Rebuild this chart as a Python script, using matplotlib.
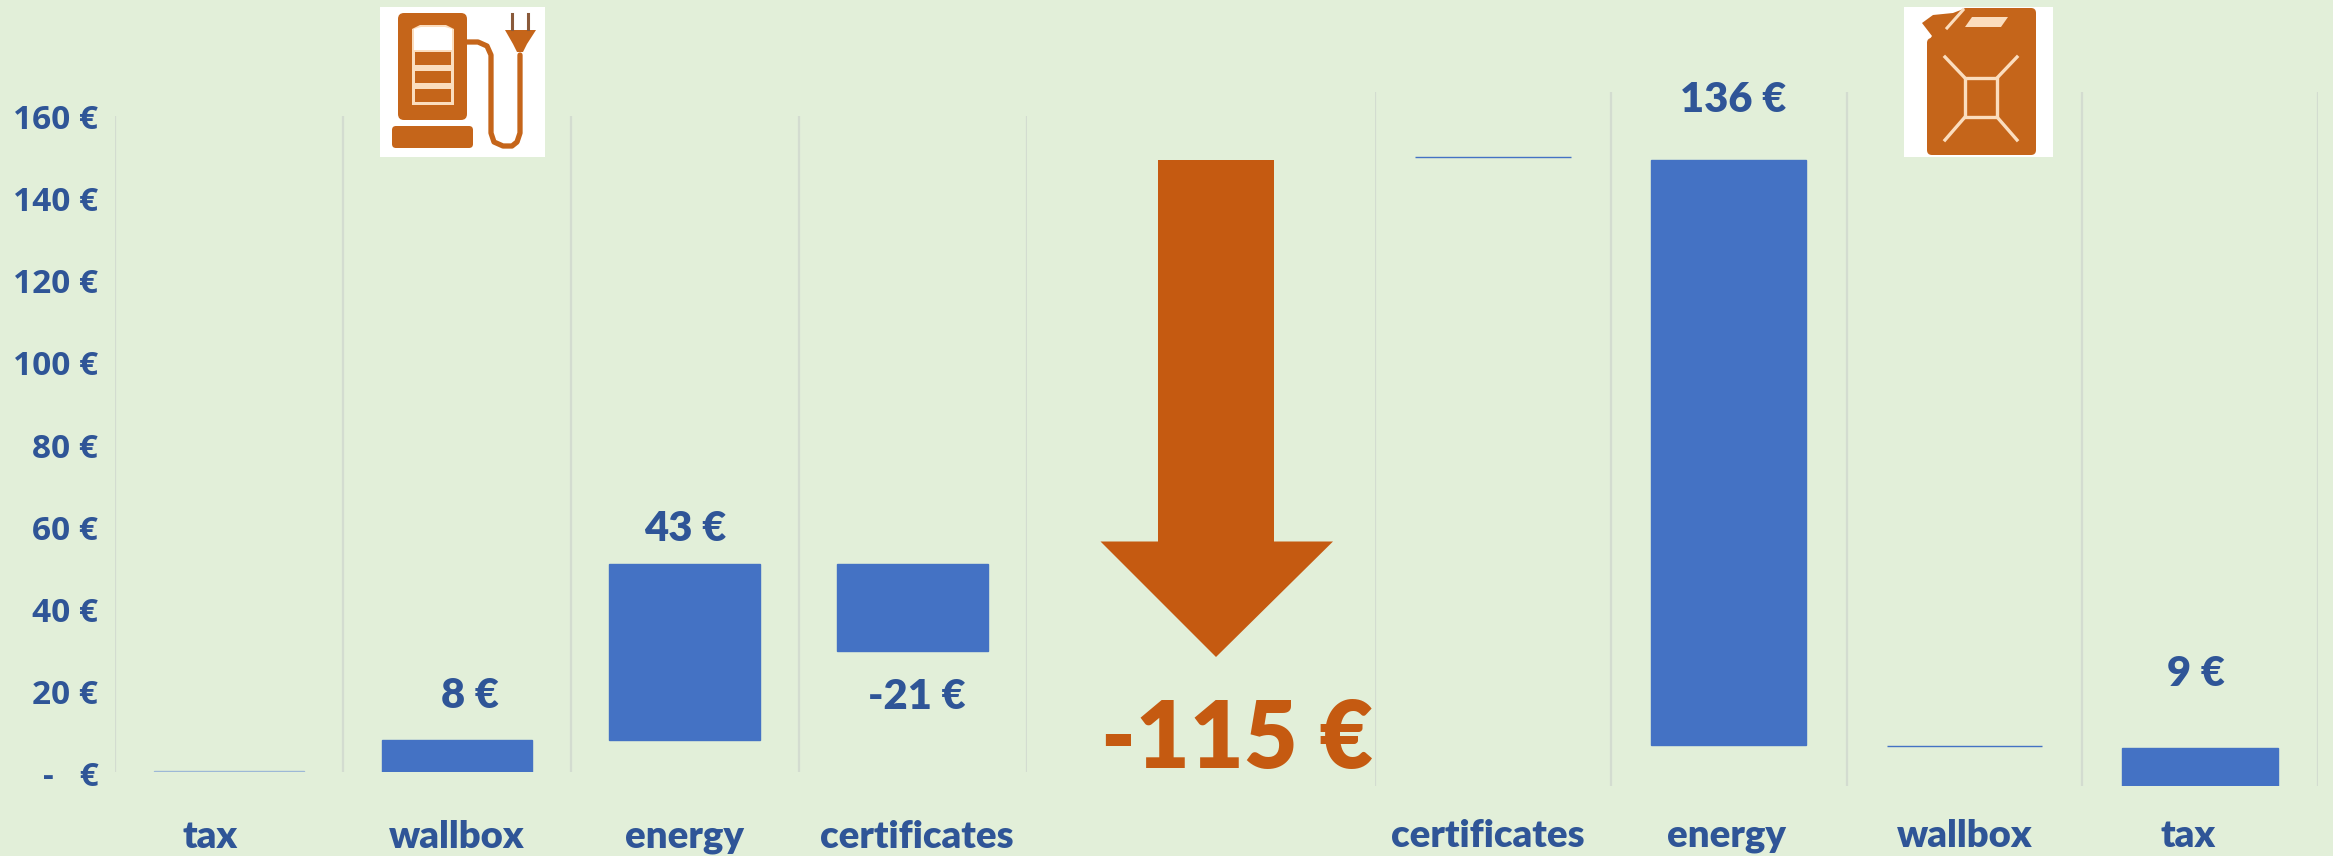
import matplotlib
matplotlib.use('Agg')
import matplotlib.pyplot as plt
from matplotlib.patches import FancyBboxPatch, Polygon, Rectangle
from matplotlib.transforms import ScaledTranslation

plt.rcParams['font.family'] = ['Lato', 'DejaVu Sans']
plt.rcParams['font.weight'] = 'heavy'

BG = '#E2EFD9'
TEXT = '#2F5597'
BAR = '#4472C4'
ORANGE = '#C55A11'
ICON = '#C5651A'
ICON_LIGHT = '#FBDDBE'
GRID = '#D3DCD0'
W, H = 2333, 856

# values
yticks = [0, 20, 40, 60, 80, 100, 120, 140, 160]
ytick_labels = ['-   €', '20 €', '40 €', '60 €', '80 €', '100 €', '120 €', '140 €', '160 €']

left_cats = ['tax', 'wallbox', 'energy', 'certificates']
left_bottom = [0, 0, 8, 29.7]
left_top = [0.3, 7.8, 50.7, 50.7]
left_labels = ['', '8 €', '43 €', '-21 €']

right_cats = ['certificates', 'energy', 'wallbox', 'tax']
right_bottom = [145.5, 9.4, 9.2, 0]
right_top = [145.5, 145.0, 9.2, 8.9]
right_labels = ['', '136 €', '', '9 €']

total_label = '-115 €'

# layout
left_tick_pos = [-0.083, 1, 2, 3.02]
right_tick_pos = [-0.02, 0.99, 2, 2.95]
left_offsets = [None, (13, 44), (1, 35), (4, -46)]
right_offsets = [None, (5, 60), None, (-4, 74)]
left_anchor = ['top', 'top', 'top', 'bottom']
right_anchor = ['top', 'top', 'top', 'top']


def make_axes(fig, x0, x1, y_top, y_bottom, ymax):
    ax = fig.add_axes([x0 / W, 1 - y_bottom / H, (x1 - x0) / W, (y_bottom - y_top) / H])
    ax.set_facecolor('none')
    ax.set_xlim(-0.5, 3.5)
    ax.set_ylim(0, ymax)
    for s in ax.spines.values():
        s.set_visible(False)
    ax.set_xticks([-0.5, 0.5, 1.5, 2.5, 3.5], minor=True)
    ax.grid(True, which='minor', axis='x', color=GRID, lw=1.6)
    ax.grid(False, which='major')
    ax.tick_params(which='both', length=0)
    ax.set_axisbelow(True)
    return ax


def draw_bars(ax, cats, bottom, top, labels, offsets, anchors, tick_pos):
    xx = list(range(len(cats)))
    heights = [t - b for t, b in zip(top, bottom)]
    ax.bar(xx, heights, bottom=bottom, width=0.66, color=BAR, edgecolor=BAR, linewidth=1.0)
    ax.set_xticks(tick_pos, cats)
    for lab in ax.get_xticklabels():
        lab.set_fontsize(27.5)
        lab.set_color(TEXT)
    for i, txt in enumerate(labels):
        if not txt:
            continue
        y = top[i] if anchors[i] == 'top' else bottom[i]
        ax.annotate(txt, (xx[i], y), xytext=offsets[i], textcoords='offset pixels',
                    ha='center', va='center', fontsize=30, color=TEXT)


fig = plt.figure(figsize=(W / 100, H / 100), dpi=100, facecolor=BG)

ax1 = make_axes(fig, 115, 1026.5, 115.7, 772.4, 160)
draw_bars(ax1, left_cats, left_bottom, left_top, left_labels, left_offsets, left_anchor, left_tick_pos)
ax1.patches[0].set_color('#9DB8D6')
ax1.set_yticks(yticks, ytick_labels)
ax1.tick_params(axis='y', labelsize=24, labelcolor=TEXT, pad=12)
shift = ScaledTranslation(0, -5 / 100, fig.dpi_scale_trans)
for lab in ax1.get_yticklabels():
    lab.set_fontfamily(['Open Sans', 'DejaVu Sans'])
    lab.set_fontweight('bold')
    lab.set_verticalalignment('center')
    lab.set_transform(lab.get_transform() + shift)
ax1.tick_params(axis='x', pad=34)

ax2 = make_axes(fig, 1375, 2318, 91.7, 786, 160.7)
draw_bars(ax2, right_cats, right_bottom, right_top, right_labels, right_offsets, right_anchor, right_tick_pos)
ax2.set_yticks([])
ax2.tick_params(axis='x', pad=24)

# overlay in pixels for arrow and icons
ov = fig.add_axes([0, 0, 1, 1], facecolor='none')
ov.set_xlim(0, W)
ov.set_ylim(H, 0)
ov.axis('off')

ov.add_patch(Polygon([(1158, 160), (1274, 160), (1274, 541.5), (1333, 541.5), (1216, 657),
                      (1100.5, 541.5), (1158, 541.5)], closed=True, color=ORANGE, lw=0))
ov.text(1237, 741, total_label, ha='center', va='center', fontsize=67, color=ORANGE)


def rbox(x0, y0, x1, y1, r, color):
    ov.add_patch(FancyBboxPatch((x0 + r, y0 + r), x1 - x0 - 2 * r, y1 - y0 - 2 * r,
                                boxstyle='round,pad=%g' % r, fc=color, ec='none'))


# charging station
ov.add_patch(Rectangle((380, 7), 165, 150, color='white', lw=0))
rbox(398, 13, 467, 120, 6, ICON)
rbox(392, 126, 473, 148, 4, ICON)
ov.add_patch(Polygon([(412, 105), (412, 29), (420, 25), (446, 25), (454, 29), (454, 105)], color=ICON_LIGHT, lw=0))
ov.add_patch(Polygon([(414, 50), (414, 29), (421, 27), (445, 27), (452, 29), (452, 50)], color='white', lw=0))
for y0, y1 in [(52, 65), (71, 83), (89, 102)]:
    ov.add_patch(Rectangle((415, y0), 36, y1 - y0, color=ICON, lw=0))
ov.plot([467, 478, 487, 491, 491, 494, 503, 512, 517, 520, 520],
        [42, 42, 46, 55, 133, 142, 146, 146, 142, 133, 55], color=ICON, lw=3.8, solid_capstyle='round')
ov.add_patch(Polygon([(505, 30), (536, 30), (527, 44), (523, 52), (517, 52), (513, 44)], color=ICON, lw=0))
ov.plot([512, 512], [14, 29], color='#8A5A3A', lw=2.2)
ov.plot([528, 528], [14, 29], color='#8A5A3A', lw=2.2)

# jerry can
ov.add_patch(Rectangle((1904, 7), 149, 150, color='white', lw=0))
rbox(1927, 38, 2036, 155, 5, ICON)
rbox(1962, 8, 2036, 60, 5, ICON)
ov.add_patch(Polygon([(1922, 23), (1933, 15), (1953, 13), (1966, 8), (1970, 8), (1970, 45), (1927, 45),
                      (1927, 43), (1932, 36)], color=ICON, lw=0))
ov.add_patch(Polygon([(1965, 27), (1972, 17), (2008, 17), (2001, 27)], color=ICON_LIGHT, lw=0))
ov.plot([1947, 1963], [28, 10], color=ICON_LIGHT, lw=2.2)
for xs, ys in [((1945, 1965), (57, 78)), ((2017, 1997), (57, 78)), ((1945, 1965), (140, 117)), ((2017, 1997), (140, 117))]:
    ov.plot(xs, ys, color=ICON_LIGHT, lw=2.4)
ov.add_patch(Rectangle((1965, 78), 32, 39, fc='none', ec=ICON_LIGHT, lw=2.4))

fig.savefig('out.png', dpi=100, facecolor=BG)
